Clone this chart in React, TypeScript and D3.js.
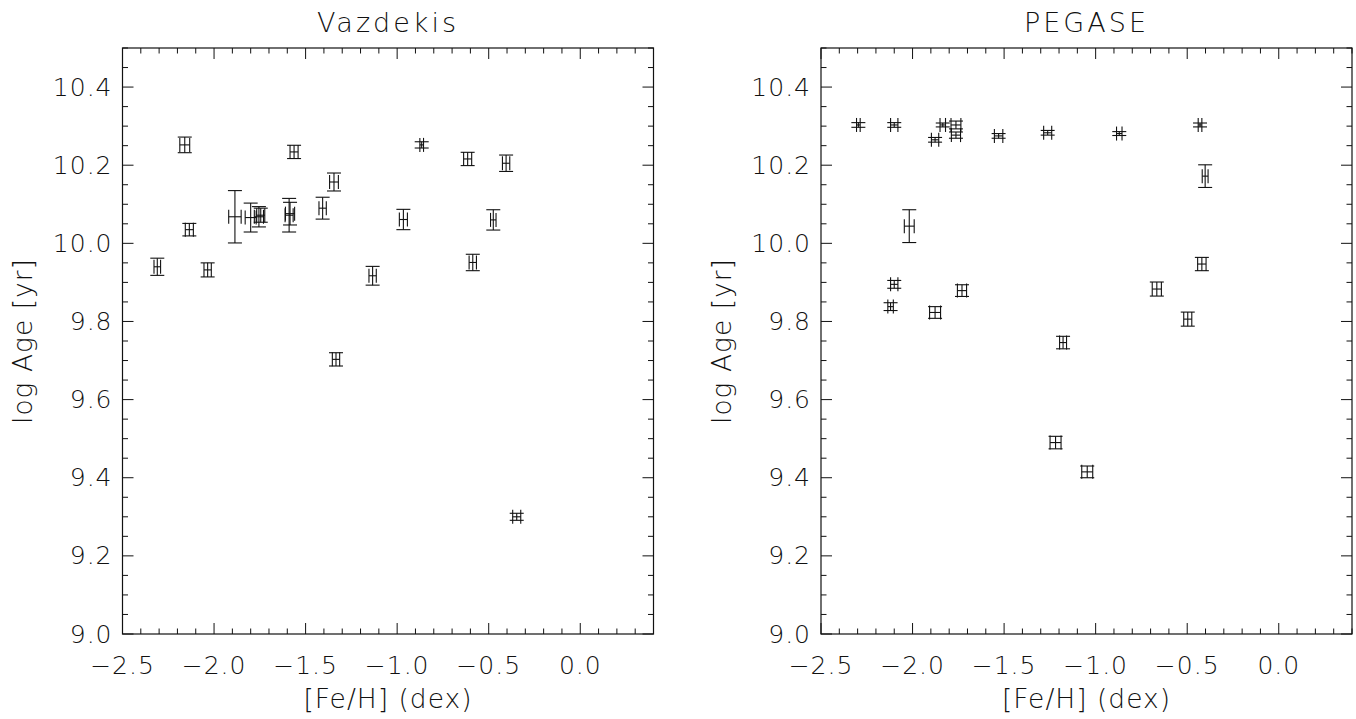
import React from "react";
import * as d3 from "d3";

// Vazdekis model fits: metallicity, log age and their 1-sigma errors
const vazFeH = [-2.31, -2.16, -2.135, -2.035, -1.886, -1.8, -1.755, -1.745, -1.59, -1.585, -1.563, -1.407, -1.345, -1.334, -1.134, -0.966, -0.866, -0.615, -0.587, -0.475, -0.405, -0.347];
const vazAge = [9.94, 10.252, 10.035, 9.932, 10.068, 10.066, 10.068, 10.072, 10.072, 10.076, 10.234, 10.09, 10.157, 9.703, 9.917, 10.061, 10.252, 10.216, 9.951, 10.06, 10.205, 9.3];
const vazFeHErr = [0.018, 0.027, 0.022, 0.02, 0.034, 0.03, 0.025, 0.022, 0.022, 0.025, 0.022, 0.02, 0.024, 0.02, 0.02, 0.022, 0.01, 0.022, 0.02, 0.015, 0.02, 0.022];
const vazAgeErr = [0.022, 0.02, 0.016, 0.018, 0.067, 0.037, 0.026, 0.018, 0.043, 0.029, 0.017, 0.028, 0.023, 0.017, 0.024, 0.026, 0.008, 0.017, 0.021, 0.026, 0.021, 0.009];

// PEGASE model fits
const pegFeH = [-2.296, -2.1, -1.877, -1.835, -1.763, -1.763, -1.53, -1.262, -0.871, -0.43, -0.402, -2.018, -0.42, -2.1, -0.666, -1.73, -2.12, -1.877, -0.497, -1.178, -1.219, -1.046];
const pegAge = [10.303, 10.303, 10.265, 10.303, 10.303, 10.277, 10.275, 10.283, 10.281, 10.303, 10.172, 10.044, 9.947, 9.895, 9.883, 9.879, 9.838, 9.823, 9.806, 9.746, 9.49, 9.415];
const pegFeHErr = [0.01, 0.02, 0.02, 0.015, 0.027, 0.025, 0.023, 0.022, 0.015, 0.01, 0.016, 0.027, 0.023, 0.02, 0.025, 0.025, 0.015, 0.03, 0.022, 0.019, 0.03, 0.03];
const pegAgeErr = [0.006, 0.006, 0.006, 0.005, 0.01, 0.008, 0.006, 0.006, 0.005, 0.005, 0.029, 0.042, 0.017, 0.01, 0.018, 0.015, 0.01, 0.015, 0.018, 0.016, 0.016, 0.015];

const xDomain: [number, number] = [-2.5, 0.4];
const yDomain: [number, number] = [9.0, 10.5];
const xMajor = [-2.5, -2.0, -1.5, -1.0, -0.5, 0.0];
const yMajor = [9.0, 9.2, 9.4, 9.6, 9.8, 10.0, 10.2, 10.4];

const FONT = "'DejaVu Sans', sans-serif";
const INK = "#111";
const CAP = 7;

type PanelProps = {
  left: number;
  title: string;
  feh: number[];
  age: number[];
  fehErr: number[];
  ageErr: number[];
};

const TOP = 48;
const BOTTOM = 634;
const WIDTH = 531;

function fmt(v: number) {
  const s = Math.abs(v).toFixed(1);
  return v < -1e-9 ? "\u2212" + s : s;
}

function Panel({ left, title, feh, age, fehErr, ageErr }: PanelProps) {
  const x = d3.scaleLinear().domain(xDomain).range([left, left + WIDTH]);
  const y = d3.scaleLinear().domain(yDomain).range([BOTTOM, TOP]);
  const xMinor = d3.range(-2.5, 0.4001, 0.1).map((v) => Math.round(v * 10) / 10);
  const yMinor = d3.range(9.0, 10.5001, 0.05).map((v) => Math.round(v * 100) / 100);
  const isMajorX = (v: number) => xMajor.some((m) => Math.abs(m - v) < 1e-6);
  const isMajorY = (v: number) => yMajor.some((m) => Math.abs(m - v) < 1e-6);
  const right = left + WIDTH;
  const cx = left + WIDTH / 2;

  return (
    <g>
      <text x={cx} y={22} textAnchor="middle" dominantBaseline="central" fontFamily={FONT} fontWeight={200} fontSize={27} letterSpacing={3} fill={INK}>
        {title}
      </text>
      <rect x={left} y={TOP} width={WIDTH} height={BOTTOM - TOP} fill="none" stroke={INK} strokeWidth={1.2} />
      {xMinor.map((v, i) => {
        const len = isMajorX(v) ? 11 : 5.5;
        const px = x(v);
        return (
          <g key={"xt" + i}>
            <line x1={px} x2={px} y1={BOTTOM} y2={BOTTOM - len} stroke={INK} strokeWidth={1} />
            <line x1={px} x2={px} y1={TOP} y2={TOP + len} stroke={INK} strokeWidth={1} />
          </g>
        );
      })}
      {yMinor.map((v, i) => {
        const len = isMajorY(v) ? 11 : 5.5;
        const py = y(v);
        return (
          <g key={"yt" + i}>
            <line x1={left} x2={left + len} y1={py} y2={py} stroke={INK} strokeWidth={1} />
            <line x1={right} x2={right - len} y1={py} y2={py} stroke={INK} strokeWidth={1} />
          </g>
        );
      })}
      {xMajor.map((v) => (
        <text key={"xl" + v} x={x(v)} y={665} textAnchor="middle" dominantBaseline="central" fontFamily={FONT} fontWeight={200} fontSize={25} letterSpacing={1} fill={INK}>
          {fmt(v)}
        </text>
      ))}
      {yMajor.map((v) => (
        <text key={"yl" + v} x={left - 10} y={y(v)} textAnchor="end" dominantBaseline="central" fontFamily={FONT} fontWeight={200} fontSize={25} letterSpacing={1} fill={INK}>
          {v.toFixed(1)}
        </text>
      ))}
      <text x={cx} y={698} textAnchor="middle" dominantBaseline="central" fontFamily={FONT} fontWeight={200} fontSize={26.5} letterSpacing={1} fill={INK}>
        [Fe/H] (dex)
      </text>
      <text
        transform={`translate(${left - 100},${(TOP + BOTTOM) / 2}) rotate(-90)`}
        textAnchor="middle"
        dominantBaseline="central"
        fontFamily={FONT}
        fontWeight={200}
        fontSize={26.5}
        letterSpacing={1}
        fill={INK}
      >
        log Age [yr]
      </text>
      {feh.map((f, i) => {
        const px = x(f);
        const py = y(age[i]);
        const x0 = x(f - fehErr[i]);
        const x1 = x(f + fehErr[i]);
        const y0 = y(age[i] - ageErr[i]);
        const y1 = y(age[i] + ageErr[i]);
        return (
          <g key={"p" + i} stroke={INK} strokeWidth={1.1} fill="none">
            <line x1={px} x2={px} y1={y0} y2={y1} />
            <line x1={px - CAP} x2={px + CAP} y1={y0} y2={y0} />
            <line x1={px - CAP} x2={px + CAP} y1={y1} y2={y1} />
            <line x1={x0} x2={x1} y1={py} y2={py} />
            <line x1={x0} x2={x0} y1={py - CAP} y2={py + CAP} />
            <line x1={x1} x2={x1} y1={py - CAP} y2={py + CAP} />
          </g>
        );
      })}
    </g>
  );
}

export default function App() {
  return (
    <svg width={1356} height={719} style={{ position: "absolute", left: 0, top: 0, background: "#fff" }}>
      <rect width={1356} height={719} fill="#fff" />
      <Panel left={122.5} title="Vazdekis" feh={vazFeH} age={vazAge} fehErr={vazFeHErr} ageErr={vazAgeErr} />
      <Panel left={821} title="PEGASE" feh={pegFeH} age={pegAge} fehErr={pegFeHErr} ageErr={pegAgeErr} />
    </svg>
  );
}
